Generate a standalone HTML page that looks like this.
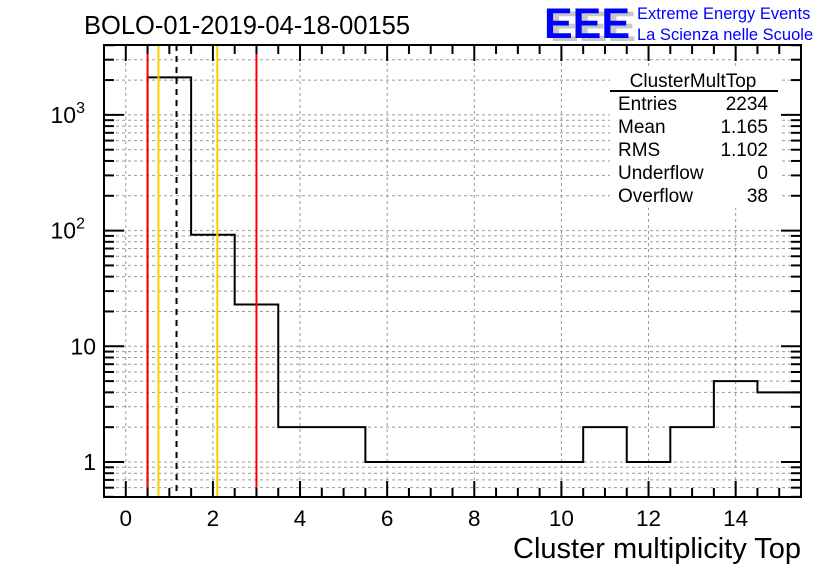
<!DOCTYPE html>
<html><head><meta charset="utf-8"><style>
body{margin:0;background:#fff;}
svg text{font-family:"Liberation Sans",sans-serif;}
</style></head><body>
<svg id="c" width="836" height="572" xmlns="http://www.w3.org/2000/svg"></svg>
<script>
const binEdges=[-0.5,0.5,1.5,2.5,3.5,4.5,5.5,6.5,7.5,8.5,9.5,10.5,11.5,12.5,13.5,14.5,15.5];
const counts=[0,2110,92,23,2,2,1,1,1,1,1,2,1,2,5,4];
const xTicks=[0,2,4,6,8,10,12,14];
const yTickVals=[1,10,100,1000];
const yTickLabels=["1","10","10²","10³"];
const redLines=[0.5,3.0];
const orangeLines=[0.75,2.1];
const meanLine=[1.165];
const statsLabels=["Entries","Mean","RMS","Underflow","Overflow"];
const statsValues=["2234","1.165","1.102","0","38"];

const L=104,R=801,T=45,B=497;
const xMin=-0.5,xMax=15.5;
const X=v=>L+(v-xMin)/(xMax-xMin)*(R-L);
const Y=v=>462-Math.log10(v)*115.7;
const ns="http://www.w3.org/2000/svg";
const svg=document.getElementById('c');
function mk(t,a,p){const e=document.createElementNS(ns,t);for(const k in a)e.setAttribute(k,a[k]);(p||svg).appendChild(e);return e;}

const g=mk('g',{});


xTicks.forEach(v=>{mk('line',{x1:X(v),x2:X(v),y1:T,y2:B,stroke:'#999','stroke-dasharray':'3,3','stroke-width':1},g);});
for(let d=-1;d<=3;d++){for(let m=1;m<10;m++){const v=m*Math.pow(10,d);const y=Y(v);if(y<T||y>B)continue;
mk('line',{x1:L,x2:R,y1:y,y2:y,stroke:'#999','stroke-dasharray':'3,3','stroke-width':1},g);}}

let d='';
for(let i=0;i<counts.length;i++){const y=counts[i]>0?Y(counts[i]):B;
if(i===0)d+=`M${X(binEdges[0])},${y}`;else d+=`L${X(binEdges[i])},${y}`;
d+=`L${X(binEdges[i+1])},${y}`;}
const h=mk('path',{d:d,fill:'none',stroke:'#000','stroke-width':2});



redLines.forEach(v=>{const e=mk('line',{x1:X(v),x2:X(v),y1:T,y2:B,stroke:'#f00','stroke-width':2});

});
orangeLines.forEach(v=>{const e=mk('line',{x1:X(v),x2:X(v),y1:T,y2:B,stroke:'#fc0','stroke-width':2});

});
meanLine.forEach(v=>{const e=mk('line',{x1:X(v),x2:X(v),y1:T,y2:B,stroke:'#000','stroke-width':2,'stroke-dasharray':'6,5'});

});

const f=mk('rect',{x:L,y:T,width:R-L,height:B-T,fill:'none',stroke:'#000','stroke-width':2});



for(let v=0;v<=15.001;v+=0.5){const major=Math.abs(v%2)<1e-6;const len=major?16:9;
mk('line',{x1:X(v),x2:X(v),y1:B,y2:B-len,stroke:'#000','stroke-width':2});
mk('line',{x1:X(v),x2:X(v),y1:T,y2:T+len,stroke:'#000','stroke-width':2});}
xTicks.forEach(v=>{const t=mk('text',{x:X(v),y:B+29,'font-size':22.5,'text-anchor':'middle'});t.textContent=v;

});
for(let dd=-1;dd<=3;dd++){for(let m=1;m<10;m++){const v=m*Math.pow(10,dd);const y=Y(v);if(y<T||y>B)continue;const len=m===1?20:10;
mk('line',{x1:L,x2:L+len,y1:y,y2:y,stroke:'#000','stroke-width':2});
mk('line',{x1:R,x2:R-len,y1:y,y2:y,stroke:'#000','stroke-width':2});}}
yTickVals.forEach((v,i)=>{const t=mk('text',{x:L-8,y:Y(v)+8,'font-size':23,'text-anchor':'end'});
const lab=yTickLabels[i];
if(lab.length>2&&lab.indexOf('10')===0){t.textContent='10';const s=mk('tspan',{dy:-10,'font-size':16},t);s.textContent=lab==='10²'?'2':'3';t.setAttribute('x',L-19);}
else t.textContent=lab;

});

let t=mk('text',{x:84,y:34,'font-size':25.5});t.textContent='BOLO-01-2019-04-18-00155';

t=mk('text',{x:801,y:558,'font-size':29,'text-anchor':'end'});t.textContent='Cluster multiplicity Top';


const lg=mk('g',{});

t=mk('text',{x:550,y:41,'font-size':43,'font-weight':'bold',fill:'#c8c8c8'},lg);t.textContent='EEE';
t=mk('text',{x:544,y:38,'font-size':43,'font-weight':'bold',fill:'#00f'},lg);t.textContent='EEE';
t=mk('text',{x:637,y:19,'font-size':16.5,fill:'#00f'},lg);t.textContent='Extreme Energy Events';
t=mk('text',{x:637,y:40,'font-size':16.5,fill:'#00f'},lg);t.textContent='La Scienza nelle Scuole';

const sb=mk('g',{});

mk('rect',{x:610,y:68,width:170,height:140,fill:'#fff'},sb);
t=mk('text',{x:693,y:87,'font-size':19,'text-anchor':'middle'},sb);t.textContent='ClusterMultTop';
mk('line',{x1:610,x2:778,y1:91,y2:91,stroke:'#000','stroke-width':2},sb);
statsLabels.forEach((s,i)=>{const y=110+i*23;
let a=mk('text',{x:618,y:y,'font-size':19},sb);a.textContent=s;
a=mk('text',{x:768,y:y,'font-size':19,'text-anchor':'end'},sb);a.textContent=statsValues[i];});
</script>
</body></html>
